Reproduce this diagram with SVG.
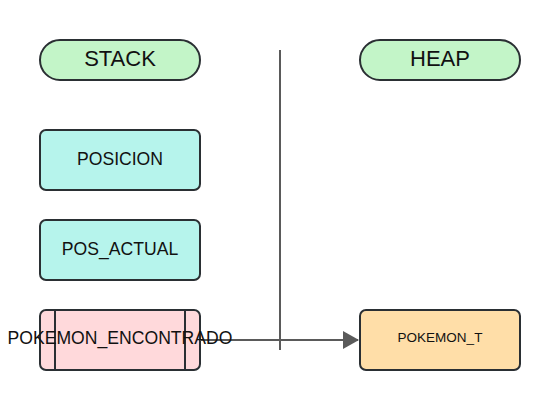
<svg xmlns="http://www.w3.org/2000/svg" width="560" height="410" viewBox="0 0 560 410">
<style>
.n{stroke:#2a2f33;stroke-width:2}
.t{font-family:"Liberation Sans",Arial,sans-serif;fill:#111;text-anchor:middle;dominant-baseline:central}
.c{stroke:#5a5a5a;stroke-width:2;fill:none}
</style>
<defs>
<marker id="ah" markerWidth="16" markerHeight="18" refX="15" refY="9" orient="auto" markerUnits="userSpaceOnUse">
<path d="M0,0 L16,9 L0,18 Z" fill="#5a5a5a"/>
</marker>
</defs>
<rect width="560" height="410" fill="#fff"/>
<g id="stack"><rect class="n" x="40" y="40" width="160" height="40" rx="20" fill="#c3f5c8"/><text class="t" x="120" y="58" font-size="22">STACK</text></g>
<g id="heap"><rect class="n" x="360" y="40" width="160" height="40" rx="20" fill="#c3f5c8"/><text class="t" x="440" y="58" font-size="22">HEAP</text></g>
<g id="posicion"><rect class="n" x="40" y="130" width="160" height="60" rx="6" fill="#b6f4ec"/><text class="t" x="120" y="159" font-size="17.6">POSICION</text></g>
<g id="pos_actual"><rect class="n" x="40" y="220" width="160" height="60" rx="6" fill="#b6f4ec"/><text class="t" x="120" y="249" font-size="17.6">POS_ACTUAL</text></g>
<g id="pokemon_encontrado"><rect class="n" x="40" y="310" width="160" height="60" rx="6" fill="#ffd9db"/><line class="n" x1="55" y1="310" x2="55" y2="370"/><line class="n" x1="185" y1="310" x2="185" y2="370"/></g>
<g id="pokemon_t"><rect class="n" x="360" y="310" width="160" height="60" rx="6" fill="#ffdea8"/><text class="t" x="440" y="337" font-size="13.5">POKEMON_T</text></g>
<g id="connectors">
<line class="c" x1="280" y1="50" x2="280" y2="350"/>
<line class="c" x1="200" y1="340" x2="358" y2="340" marker-end="url(#ah)"/>
</g>
<text class="t" x="120" y="338" font-size="17.6">POKEMON_ENCONTRADO</text>
</svg>
